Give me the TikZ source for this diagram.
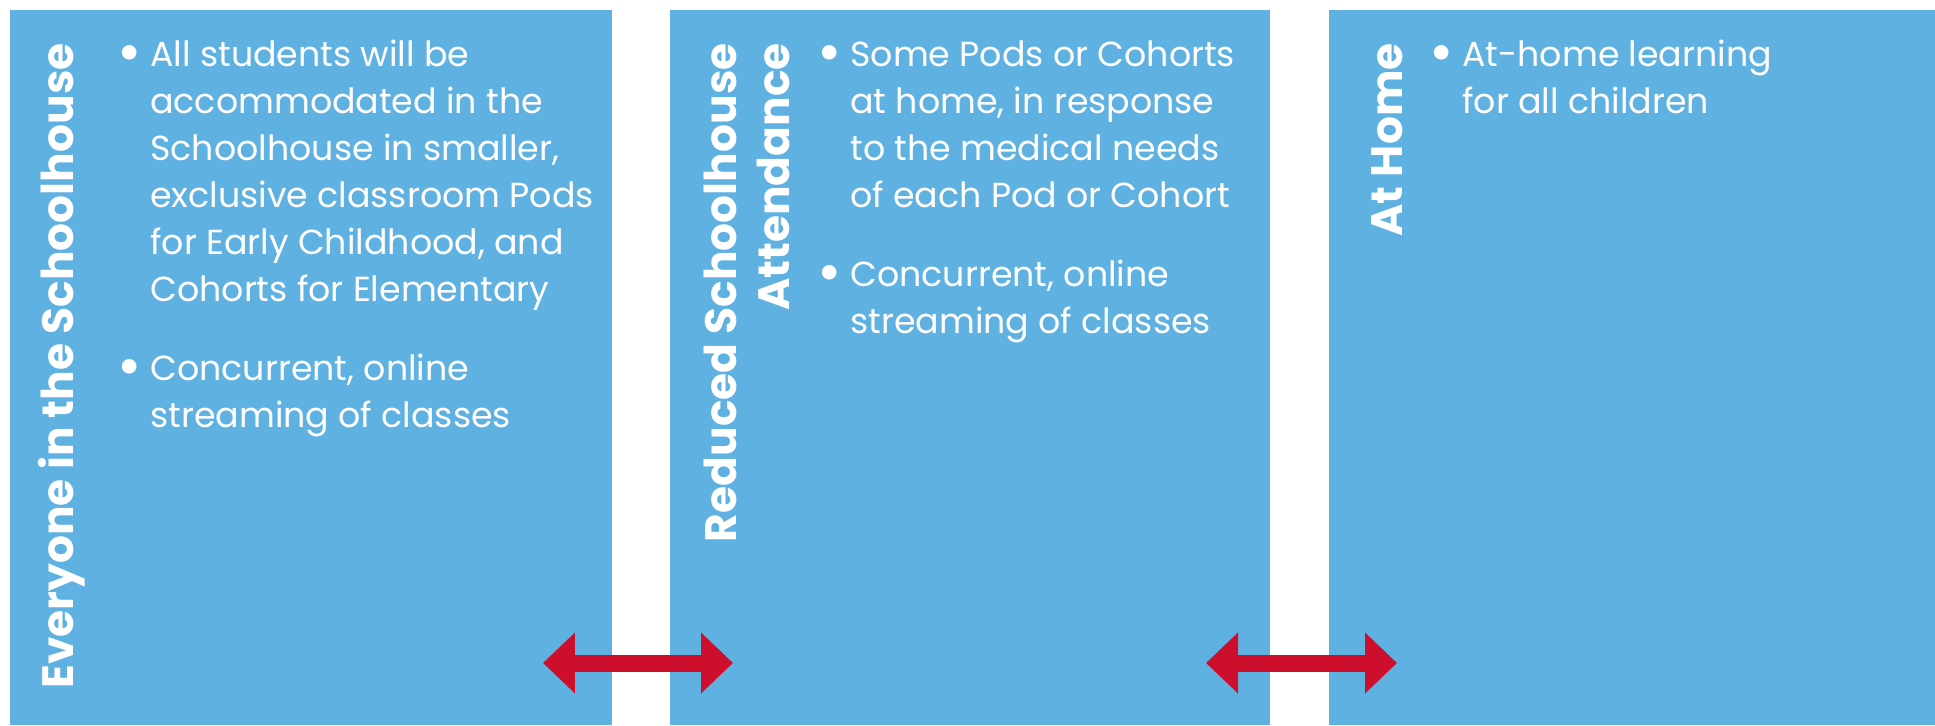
\documentclass[tikz,border=0pt]{standalone}
\usepackage{fontspec}
\setmainfont{Poppins}
\usepackage{xcolor}
\usepackage{graphicx}
\usetikzlibrary{arrows.meta}
\definecolor{panelblue}{HTML}{5FB1E2}
\definecolor{swapred}{HTML}{CE0E2D}
\newcommand{\dotitem}{\llap{\raisebox{-3.5pt}{\scalebox{1.7}{\textbullet}}\hspace{5pt}}}

\begin{document}
\begin{tikzpicture}[x=0.02cm,y=-0.02cm,
    panel/.style={fill=panelblue, anchor=north west, inner sep=0, minimum height=14.3cm},
    heading/.style={text=white, font=\fontsize{25}{30}\selectfont\bfseries, rotate=90, anchor=base east, inner sep=0},
    body/.style={text=white, font=\fontsize{19.8}{26.7}\selectfont, align=left, anchor=base west, inner sep=0},
    swap/.style={swapred, line width=0.34cm, {Triangle[length=0.64cm,width=1.18cm]}-{Triangle[length=0.64cm,width=1.18cm]}}]
    \useasboundingbox (0,0) rectangle (1935,725);
	\node [panel, minimum width=12.04cm] (P1) at (10,10) {};
	\node [panel, minimum width=12cm] (P2) at (670,10) {};
	\node [panel, minimum width=12.12cm] (P3) at (1329,10) {};

	\node [heading] (T1) at (73,43) {Everyone in the Schoolhouse};
	\node [heading] (T2) at (736,43) {Reduced Schoolhouse};
	\node [heading] (T2b) at (789,43) {Attendance};
	\node [heading] (T3) at (1402,43) {At Home};

	% base of a block is its last line
	\node [body] (B1) at (150,427) {\dotitem All students will be\\ accommodated in the\\ Schoolhouse in smaller,\\ exclusive classroom Pods\\ for Early Childhood, and\\ Cohorts for Elementary\\[18.2pt]
	\dotitem Concurrent, online\\ streaming of classes};
	\node [body] (B2) at (850,333) {\dotitem Some Pods or Cohorts\\ at home, in response\\ to the medical needs\\ of each Pod or Cohort\\[18.2pt]
	\dotitem Concurrent, online\\ streaming of classes};
	\node [body] (B3) at (1462,113) {\dotitem At-home learning\\ for all children};

	\coordinate (L1) at (543,663);
	\coordinate (R1) at (733,663);
	\coordinate (L2) at (1206,663);
	\coordinate (R2) at (1397,663);
	\draw [swap] (L1) -- (R1);
	\draw [swap] (L2) -- (R2);
\end{tikzpicture}
\end{document}
